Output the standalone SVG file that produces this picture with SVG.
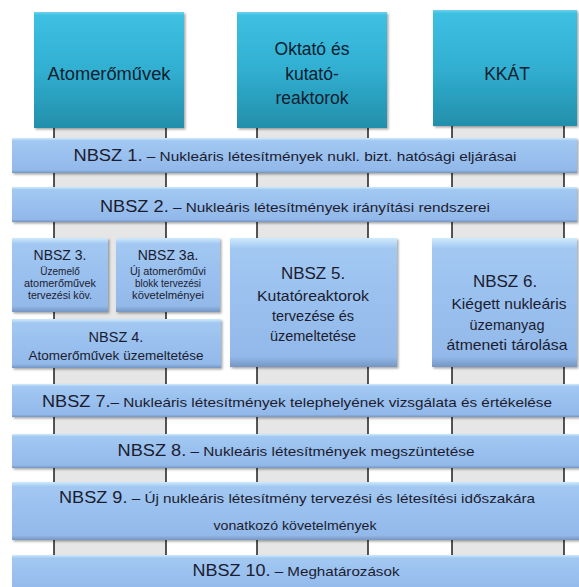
<svg xmlns="http://www.w3.org/2000/svg" width="579" height="587" viewBox="0 0 579 587">
<defs>
<linearGradient id="teal" x1="0" y1="0" x2="0" y2="1">
<stop offset="0" stop-color="#6fd2ec"/>
<stop offset="0.03" stop-color="#3dc0e2"/>
<stop offset="0.5" stop-color="#31afd1"/>
<stop offset="1" stop-color="#238fab"/>
</linearGradient>
<linearGradient id="blue" x1="0" y1="0" x2="0" y2="1">
<stop offset="0" stop-color="#cfeafc"/>
<stop offset="0.08" stop-color="#a2c8f2"/>
<stop offset="0.5" stop-color="#99c0ee"/>
<stop offset="0.92" stop-color="#92b9e9"/>
<stop offset="1" stop-color="#7596c2"/>
</linearGradient>
<filter id="sh" x="-5%" y="-10%" width="110%" height="130%">
<feDropShadow dx="1.5" dy="1.5" stdDeviation="1.2" flood-color="#000" flood-opacity="0.35"/>
</filter>
</defs>
<style>
.col{fill:#e6e6e6}
.pl{stroke:#1e1e1e;stroke-width:1.5}
.tb{fill:url(#teal);filter:url(#sh)}
.bb{fill:url(#blue);filter:url(#sh)}
text{font-family:"Liberation Sans",Arial,sans-serif;fill:#1c1c30;text-anchor:middle}
.tt{font-size:17.5px;fill:#102030}
.h{font-size:16px}
.s{font-size:13.5px}
.m{font-size:14.5px}
.hh{font-size:17px}
.n3{font-size:14px}
.xs{font-size:10px}
</style>
<rect width="579" height="587" fill="#fff"/>
<g id="connectors">
<rect class="col" x="54" y="126" width="112" height="461"/>
<rect class="col" x="257" y="126" width="111" height="461"/>
<rect class="col" x="452" y="126" width="112" height="461"/>
<line class="pl" x1="54" y1="126" x2="54" y2="587"/>
<line class="pl" x1="166" y1="126" x2="166" y2="587"/>
<line class="pl" x1="257" y1="126" x2="257" y2="587"/>
<line class="pl" x1="368" y1="126" x2="368" y2="587"/>
<line class="pl" x1="452" y1="126" x2="452" y2="587"/>
<line class="pl" x1="564" y1="126" x2="564" y2="587"/>
</g>
<g id="atom">
<rect class="tb" x="34" y="12" width="150" height="116"/>
<text class="tt" x="109" y="80" textLength="123" lengthAdjust="spacingAndGlyphs">Atomerőművek</text>
</g>
<g id="oktato">
<rect class="tb" x="237" y="12" width="150" height="116"/>
<text class="tt" x="312" y="55">Oktató és</text>
<text class="tt" x="312" y="80">kutató-</text>
<text class="tt" x="312" y="104">reaktorok</text>
</g>
<g id="kkat">
<rect class="tb" x="433" y="10" width="144" height="116"/>
<text class="tt" x="507" y="80">KKÁT</text>
</g>
<g id="nbsz1">
<rect class="bb" x="12" y="138" width="565" height="35"/>
<text x="295" y="161" textLength="443" lengthAdjust="spacingAndGlyphs"><tspan class="h">NBSZ 1.</tspan><tspan class="s"> – Nukleáris létesítmények nukl. bizt. hatósági eljárásai</tspan></text>
</g>
<g id="nbsz2">
<rect class="bb" x="12" y="187" width="565" height="35"/>
<text x="295" y="212" textLength="390" lengthAdjust="spacingAndGlyphs"><tspan class="h">NBSZ 2.</tspan><tspan class="s"> – Nukleáris létesítmények irányítási rendszerei</tspan></text>
</g>
<g id="nbsz3">
<rect class="bb" x="12" y="238" width="96" height="74"/>
<text class="n3" x="60" y="260">NBSZ 3.</text>
<text class="xs" x="60" y="275">Üzemelő</text>
<text class="xs" x="60" y="287" textLength="72" lengthAdjust="spacingAndGlyphs">atomerőművek</text>
<text class="xs" x="60" y="299" textLength="64" lengthAdjust="spacingAndGlyphs">tervezési köv.</text>
</g>
<g id="nbsz3a">
<rect class="bb" x="116" y="238" width="104" height="74"/>
<text class="n3" x="168" y="260">NBSZ 3a.</text>
<text class="xs" x="168" y="275" textLength="76" lengthAdjust="spacingAndGlyphs">Új atomerőművi</text>
<text class="xs" x="168" y="287" textLength="66" lengthAdjust="spacingAndGlyphs">blokk tervezési</text>
<text class="xs" x="168" y="299" textLength="72" lengthAdjust="spacingAndGlyphs">követelményei</text>
</g>
<g id="nbsz4">
<rect class="bb" x="12" y="319" width="209" height="49"/>
<text class="m" x="116" y="342">NBSZ 4.</text>
<text class="s" x="116" y="360" textLength="175" lengthAdjust="spacingAndGlyphs">Atomerőművek üzemeltetése</text>
</g>
<g id="nbsz5">
<rect class="bb" x="230" y="238" width="167" height="129"/>
<text class="hh" x="313" y="279">NBSZ 5.</text>
<text class="m" x="313" y="301" textLength="112" lengthAdjust="spacingAndGlyphs">Kutatóreaktorok</text>
<text class="m" x="313" y="321">tervezése és</text>
<text class="m" x="313" y="341">üzemeltetése</text>
</g>
<g id="nbsz6">
<rect class="bb" x="432" y="238" width="145" height="129"/>
<text class="hh" x="505" y="287">NBSZ 6.</text>
<text class="m" x="509" y="309" textLength="115" lengthAdjust="spacingAndGlyphs">Kiégett nukleáris</text>
<text class="m" x="507" y="330">üzemanyag</text>
<text class="m" x="507" y="350" textLength="121" lengthAdjust="spacingAndGlyphs">átmeneti tárolása</text>
</g>
<g id="nbsz7">
<rect class="bb" x="12" y="384" width="567" height="33"/>
<text x="297" y="407" textLength="510" lengthAdjust="spacingAndGlyphs"><tspan class="h">NBSZ 7.</tspan><tspan class="s">– Nukleáris létesítmények telephelyének vizsgálata és értékelése</tspan></text>
</g>
<g id="nbsz8">
<rect class="bb" x="12" y="434" width="567" height="34"/>
<text x="296" y="456" textLength="357" lengthAdjust="spacingAndGlyphs"><tspan class="h">NBSZ 8.</tspan><tspan class="s"> – Nukleáris létesítmények megszüntetése</tspan></text>
</g>
<g id="nbsz9">
<rect class="bb" x="12" y="482" width="567" height="58"/>
<text x="297" y="503" textLength="476" lengthAdjust="spacingAndGlyphs"><tspan class="h">NBSZ 9.</tspan><tspan class="s"> – Új nukleáris létesítmény tervezési és létesítési időszakára</tspan></text>
<text class="s" x="295" y="530" textLength="163" lengthAdjust="spacingAndGlyphs">vonatkozó követelmények</text>
</g>
<g id="nbsz10">
<rect class="bb" x="12" y="555" width="567" height="40"/>
<text x="296" y="576" textLength="207" lengthAdjust="spacingAndGlyphs"><tspan class="h">NBSZ 10.</tspan><tspan class="s"> – Meghatározások</tspan></text>
</g>
</svg>
